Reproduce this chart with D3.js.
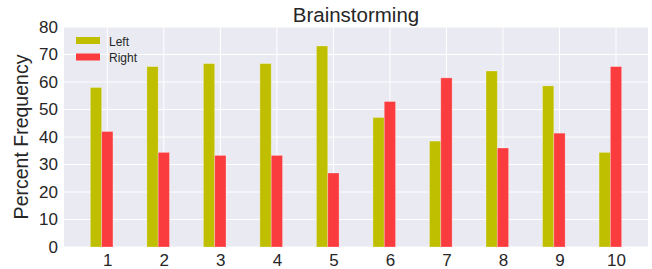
<!DOCTYPE html>
<html>
<head>
<meta charset="utf-8">
<script src="https://cdn.jsdelivr.net/npm/d3@7"></script>
<style>
body{margin:0;background:#fff;}
text{font-family:"Liberation Sans",Arial,sans-serif;fill:#262626;}
</style>
</head>
<body>
<svg id="chart" width="652" height="269"></svg>
<script>
const categories = [1,2,3,4,5,6,7,8,9,10];
const leftValues = [58.0, 65.6, 66.7, 66.7, 73.1, 47.1, 38.5, 64.0, 58.6, 34.4];
const rightValues = [42.0, 34.4, 33.3, 33.3, 26.9, 52.9, 61.5, 36.0, 41.4, 65.6];
const yTicks = [0,10,20,30,40,50,60,70,80];
const seriesNames = ["Left","Right"];
const colors = ["#bfbf00","#fb3c3e"];

const svg = d3.select("#chart");
const m = {l:64, r:4, t:27, b:22};
const W = 652, H = 269;
const x = d3.scaleLinear().domain([0.234, 10.566]).range([m.l, W - m.r]);
const y = d3.scaleLinear().domain([0, 80]).range([H - m.b, m.t]);
const bw = 0.2;

svg.append("rect").attr("x", m.l).attr("y", m.t)
  .attr("width", x.range()[1]-m.l).attr("height", y(0)-m.t).attr("fill","#eaeaf2");

// grid
svg.append("g").selectAll("line").data(yTicks).join("line")
  .attr("x1", m.l).attr("x2", x.range()[1])
  .attr("y1", d=>y(d)).attr("y2", d=>y(d))
  .attr("stroke","#fff").attr("stroke-width",1);
svg.append("g").selectAll("line").data(categories).join("line")
  .attr("x1", d=>x(d)).attr("x2", d=>x(d))
  .attr("y1", m.t).attr("y2", y(0))
  .attr("stroke","#fff").attr("stroke-width",1);

// bars
const g = svg.append("g");
g.selectAll("rect.l").data(categories).join("rect").attr("class","l")
  .attr("x", d=>x(d-1.5*bw)).attr("width", x(bw)-x(0))
  .attr("y", (d,i)=>y(leftValues[i])).attr("height",(d,i)=>y(0)-y(leftValues[i]))
  .attr("fill", colors[0]).attr("stroke","rgba(255,255,255,0.35)").attr("stroke-width",0.8);
g.selectAll("rect.r").data(categories).join("rect").attr("class","r")
  .attr("x", d=>x(d-0.5*bw)).attr("width", x(bw)-x(0))
  .attr("y", (d,i)=>y(rightValues[i])).attr("height",(d,i)=>y(0)-y(rightValues[i]))
  .attr("fill", colors[1]).attr("stroke","rgba(255,255,255,0.35)").attr("stroke-width",0.8);

// axes
const yAxis = d3.axisLeft(y).tickValues(yTicks).tickSize(0).tickPadding(6);
const ya = svg.append("g").attr("transform",`translate(${m.l},0)`).call(yAxis);
ya.select(".domain").remove();
ya.selectAll("text").attr("font-size","17px").attr("fill","#262626").attr("font-family","Liberation Sans, Arial, sans-serif");

const xAxis = d3.axisBottom(x).tickValues(categories).tickSize(0).tickPadding(7).tickFormat(d3.format("d"));
const xa = svg.append("g").attr("transform",`translate(0,${y(0)})`).call(xAxis);
xa.select(".domain").remove();
xa.selectAll("text").attr("font-size","17px").attr("fill","#262626").attr("font-family","Liberation Sans, Arial, sans-serif");

// title & label
svg.append("text").attr("x", (m.l + x.range()[1])/2).attr("y", 22)
  .attr("text-anchor","middle").attr("font-size","20.5px").text("Brainstorming");
svg.append("text").attr("transform",`translate(28,${(m.t+y(0))/2}) rotate(-90)`)
  .attr("text-anchor","middle").attr("font-size","19.5px").text("Percent Frequency");

// legend
const lg = svg.append("g");
seriesNames.forEach((n,i)=>{
  lg.append("rect").attr("x",76).attr("y",37+i*16.5).attr("width",24).attr("height",7).attr("fill",colors[i]);
  lg.append("text").attr("x",109).attr("y",45.5+i*16.5).attr("font-size","12px").text(n);
});
</script>
</body>
</html>
